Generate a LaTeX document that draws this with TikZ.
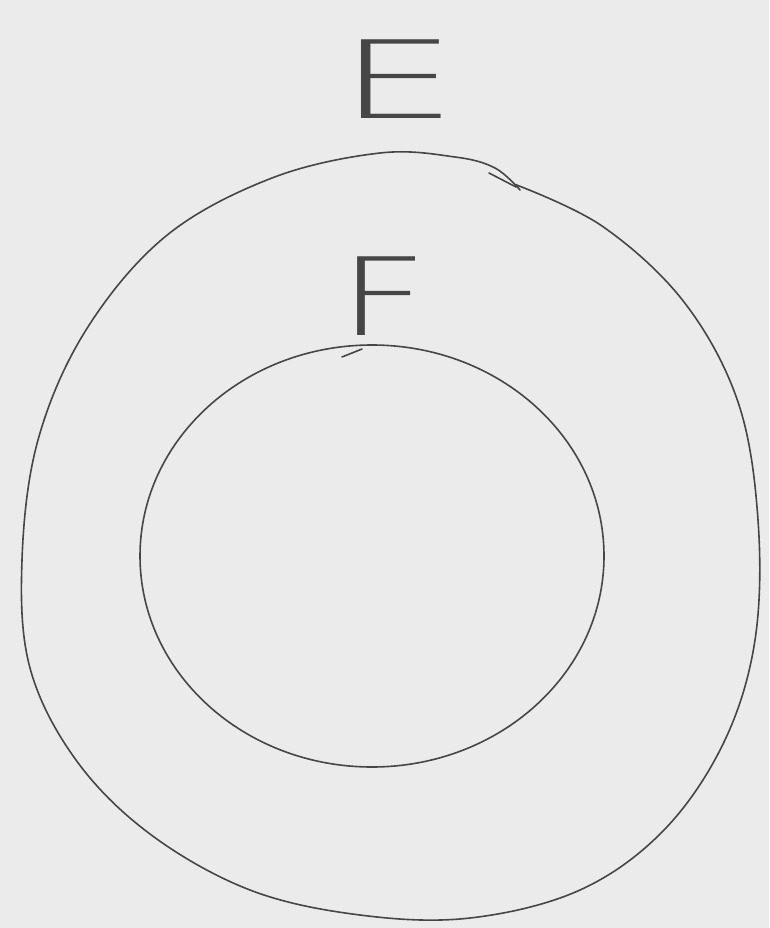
\documentclass[tikz,border=0pt]{standalone}
\usepackage{fontspec}
\newfontfamily\handfont{DejaVu Sans ExtraLight}
\definecolor{paper}{RGB}{236,235,235}
\definecolor{pencil}{RGB}{70,70,70}
\begin{document}
\begin{tikzpicture}[x=1pt,y=-1pt,
  stroke/.style={draw=pencil,line width=1.6pt,line cap=round,line join=round},
  letter/.style={text=pencil,inner sep=0pt,font=\handfont\fontsize{108}{108}\selectfont}]
\fill[paper] (0,0) rectangle (769,928);
\useasboundingbox (0,0) rectangle (769,928);
% outer region E
\draw[stroke] plot[smooth,tension=0.6] coordinates {
 (514,184) (602,226) (684,302) (738,402) (758,520) (755,640) (724,742)
 (664,830) (580,890) (470,918) (360,915) (250,890) (150,834) (76,760)
 (30,668) (22,560) (38,440) (86,330) (166,236) (272,178) (380,153)
 (455,157) (495,168) (520,190)};
\draw[stroke] (489,173) -- (516,187);
% inner region F
\draw[stroke] (372,556) ellipse [x radius=232, y radius=211];
\draw[stroke] (342,357) -- (362,349);
% labels
\node[letter] (E) at (398,79) {\scalebox{1.75}[1]{E}};
\node[letter] (F) at (384,296) {\scalebox{1.45}[1]{F}};
\end{tikzpicture}
\end{document}
